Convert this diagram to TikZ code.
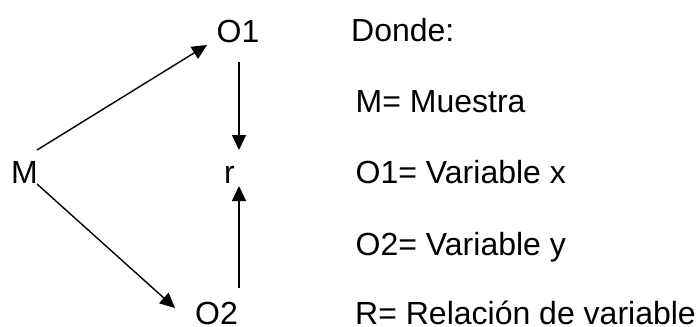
\documentclass[tikz,border=0pt]{standalone}
\usepackage{fontspec}
\setmainfont{Liberation Sans}
\usetikzlibrary{arrows.meta}
\begin{document}
\begin{tikzpicture}[x=1pt,y=-1pt,
  lbl/.style={inner sep=0pt, anchor=base west, font=\fontsize{32}{38}\selectfont},
  arr/.style={line width=1.4pt, -{Triangle[length=15pt,width=14pt]}}]
\useasboundingbox (0,0) rectangle (697,327);
% diagram nodes
\node[lbl] (M)  at (11,183)    {M};
\node[lbl] (O1) at (216.5,42)  {O1};
\node[lbl] (O2) at (195,324.5) {O2};
\node[lbl] (r)  at (224,183)   {r};
% connectors
\draw[arr] ([xshift=26pt,yshift=33pt]M.base west) -- ([xshift=-9.5pt,yshift=-3pt]O1.base west);
\draw[arr] ([xshift=26pt,yshift=-1pt]M.base west) -- ([xshift=-20pt,yshift=16.5pt]O2.base west);
\draw[arr] ([xshift=22.5pt,yshift=-20pt]O1.base west) -- ([xshift=15pt,yshift=33pt]r.base west);
\draw[arr] ([xshift=44pt,yshift=36.5pt]O2.base west) -- ([xshift=15pt,yshift=-3pt]r.base west);
% legend
\node[lbl] (leg0) at (351,41)      {Donde:};
\node[lbl] (leg1) at (355.5,112)   {M= Muestra};
\node[lbl] (leg2) at (355.5,183.5) {O1= Variable x};
\node[lbl] (leg3) at (355.5,255)   {O2= Variable y};
\node[lbl] (leg4) at (355,324.5)   {R= Relación de variable};
\end{tikzpicture}
\end{document}
